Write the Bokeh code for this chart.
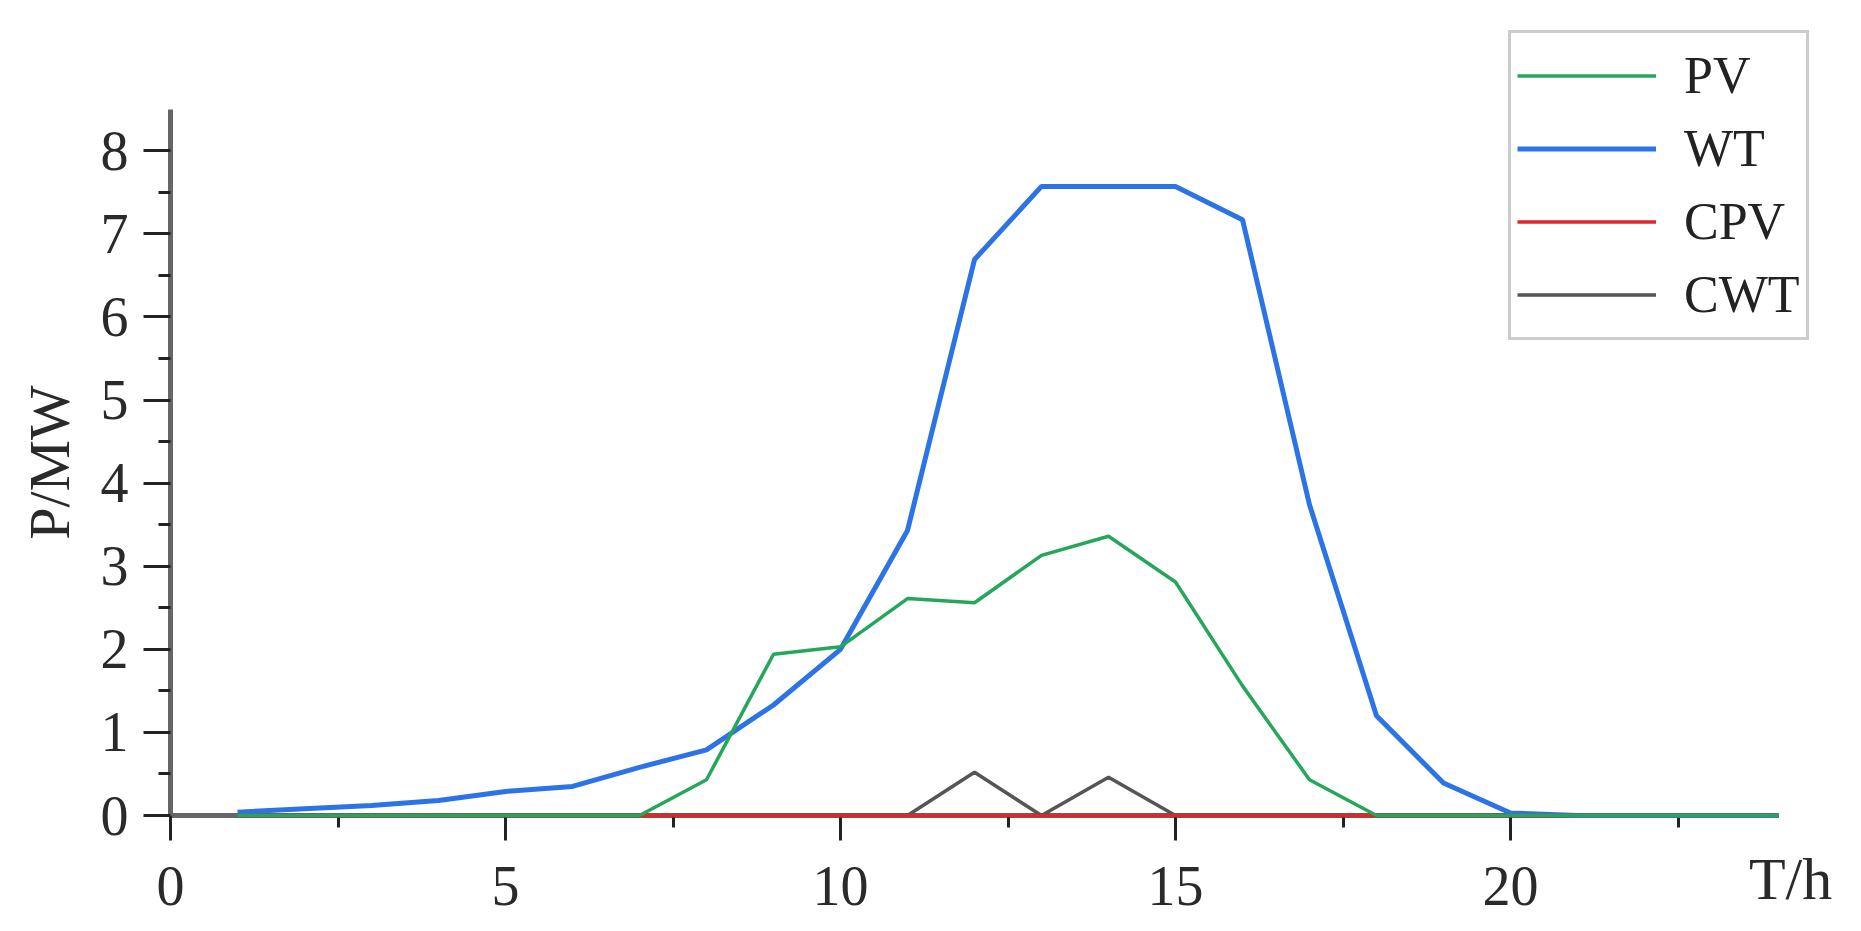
from bokeh.plotting import figure
from bokeh.models import Range1d, FixedTicker, Legend, LegendItem, Label
from bokeh.embed import file_html
from bokeh.resources import INLINE

hours = list(range(1, 25))
pv = [0, 0, 0, 0, 0, 0, 0, 0.43, 1.94, 2.03, 2.61, 2.56, 3.13, 3.36, 2.81, 1.56, 0.43, 0, 0, 0, 0, 0, 0, 0]
wt = [0.04, 0.08, 0.12, 0.18, 0.29, 0.35, 0.58, 0.79, 1.33, 2.0, 3.43, 6.69, 7.57, 7.57, 7.57, 7.17, 3.74, 1.2, 0.39, 0.03, 0, 0, 0, 0]
cpv = [0] * 24
cwt = [0, 0, 0, 0, 0, 0, 0, 0, 0, 0, 0, 0.52, 0, 0.46, 0, 0, 0, 0, 0, 0, 0, 0, 0, 0]
series_names = ["PV", "WT", "CPV", "CWT"]
x_ticks = [0, 5, 10, 15, 20]
x_minor = [2.5, 7.5, 12.5, 17.5, 22.5]
y_ticks = [0, 1, 2, 3, 4, 5, 6, 7, 8]
y_minor = [0.5, 1.5, 2.5, 3.5, 4.5, 5.5, 6.5, 7.5]
x_axis_max = 24
y_axis_max = 8.5

FONT = "Liberation Serif"
W, H = 1845, 915
x0_px, y0_px = 170, 815      # canvas position of the origin
x_px, y_px = 67.0, 83.1      # pixels per data unit

p = figure(width=W, height=H, output_backend="svg", toolbar_location=None,
           x_range=Range1d(-x0_px / x_px, (W - x0_px) / x_px),
           y_range=Range1d(-(H - y0_px) / y_px, y0_px / y_px),
           min_border_left=0, min_border_top=0,
           min_border_right=0, min_border_bottom=0)
p.outline_line_color = None
p.xgrid.visible = False
p.ygrid.visible = False

r_cwt = p.line(hours, cwt, line_color="#555555", line_width=3.5)
r_wt = p.line(hours, wt, line_color="#2c74e6", line_width=5)
r_cpv = p.line(hours, cpv, line_color="#e0252b", line_width=3.5)
r_pv = p.line(hours, pv, line_color="#26a65b", line_width=3.5)

for ax in (p.xaxis[0], p.yaxis[0]):
    ax.level = "underlay"
    ax.fixed_location = 0
    ax.axis_line_color = "#666666"
    ax.axis_line_width = 5
    ax.major_tick_line_color = "#222222"
    ax.major_tick_line_width = 3
    ax.minor_tick_line_color = "#222222"
    ax.minor_tick_line_width = 3
    ax.major_tick_in = 0
    ax.minor_tick_in = 0
    ax.minor_tick_out = 12
    ax.major_label_text_font = FONT
    ax.major_label_text_font_size = "56px"
    ax.major_label_text_color = "#2a2a2a"
    ax.axis_label_text_font = FONT
    ax.axis_label_text_font_style = "normal"
    ax.axis_label_text_color = "#2a2a2a"

p.xaxis[0].ticker = FixedTicker(ticks=x_ticks, minor_ticks=x_minor)
p.yaxis[0].ticker = FixedTicker(ticks=y_ticks, minor_ticks=y_minor)
p.xaxis[0].bounds = (0, x_axis_max)
p.yaxis[0].bounds = (0, y_axis_max)
p.xaxis[0].major_tick_out = 25
p.yaxis[0].major_tick_out = 27
p.xaxis[0].major_label_standoff = 26
p.yaxis[0].major_label_standoff = 15
p.yaxis[0].axis_label = "P/MW"
p.yaxis[0].axis_label_text_font_size = "58px"
p.yaxis[0].axis_label_standoff = 16

p.add_layout(Label(x=24.18, y=-0.77, text="T/h", text_font=FONT, text_font_size="60px",
                   text_color="#2a2a2a", text_align="center", text_baseline="middle"))

legend = Legend(items=[LegendItem(label=series_names[0], renderers=[r_pv]),
                       LegendItem(label=series_names[1], renderers=[r_wt]),
                       LegendItem(label=series_names[2], renderers=[r_cpv]),
                       LegendItem(label=series_names[3], renderers=[r_cwt])],
                location=(1508, 575), label_text_font=FONT, label_text_font_size="52px",
                label_text_color="#222222", glyph_width=139, glyph_height=73,
                label_height=73, label_standoff=28, spacing=0, padding=6, margin=0,
                border_line_color="#999999", border_line_width=3,
                background_fill_color="white", background_fill_alpha=1)
p.add_layout(legend, "center")

open("out.html", "w").write(file_html(p, INLINE))
